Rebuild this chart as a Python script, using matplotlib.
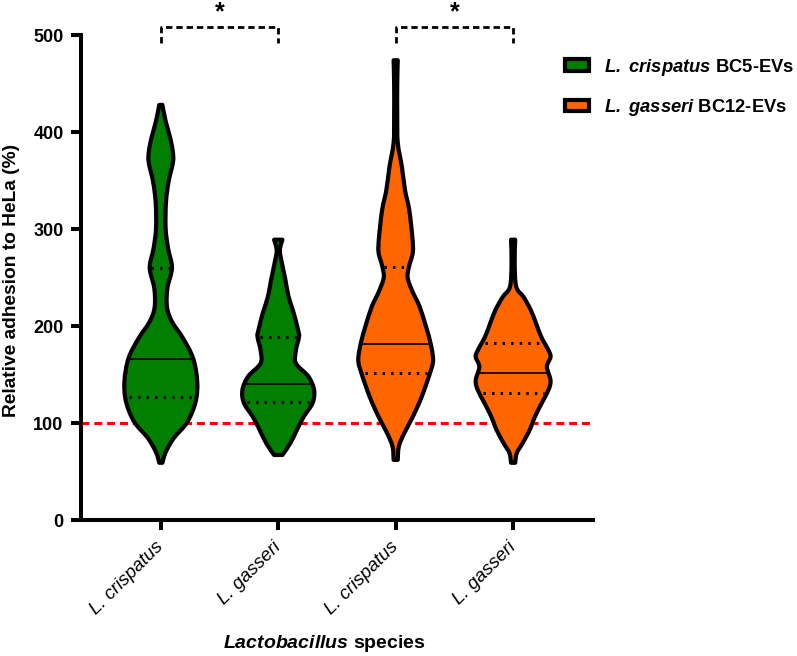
import numpy as np
import matplotlib
matplotlib.use("Agg")
import matplotlib.pyplot as plt
from matplotlib.patches import Patch, PathPatch
from matplotlib.path import Path

# Fuentes tipo Arial
plt.rcParams.update({
    "font.family": "Liberation Sans",
    "mathtext.fontset": "custom",
    "mathtext.rm": "Liberation Sans",
    "mathtext.it": "Liberation Sans:italic",
    "mathtext.bf": "Liberation Sans:bold",
    "mathtext.bfit": "Liberation Sans:italic:bold",
})

# Datos
categories = ["L. crispatus", "L. gasseri", "L. crispatus", "L. gasseri"]
groups = ["BC5", "BC5", "BC12", "BC12"]

# perfiles de los violines: nivel (%) y semiancho relativo
v1_levels = [428, 411, 394, 380, 369, 349, 328, 301, 280, 260, 239, 219, 204, 188, 167, 143, 122, 101, 84.5, 70, 59]
v1_dens = [1.5, 4.7, 9, 11.5, 11.7, 7.5, 5, 4.6, 7, 10.7, 6.3, 6, 11, 21, 31, 35, 33.5, 25.5, 12.5, 4.7, 1.5]

v2_levels = [289, 278, 265, 247, 230, 213, 196, 189, 175, 161.5, 148, 134, 120.5, 106.5, 93, 79, 67]
v2_dens = [4, 1.5, 3.5, 7, 10, 15, 19, 20, 17, 17, 29, 34.5, 33, 24.5, 18, 11.5, 4]

v3_levels = [474, 450, 416, 389, 364, 340, 320, 292, 276, 262, 250, 236, 220, 200, 182.5, 165, 151.5, 127, 106.5, 89, 75.6, 62]
v3_dens = [2, 1.5, 1.5, 2, 6, 9, 13, 16, 16.5, 13, 11.5, 16, 23, 29, 33.5, 36, 33, 25, 16.5, 8, 3, 2]

v4_levels = [289, 265, 240.5, 230, 216.5, 203, 189, 175, 168, 158, 144, 134, 120.5, 106.5, 93, 79, 69, 59]
v4_dens = [2, 1.5, 3, 10, 17, 22, 27, 34, 36, 32.5, 36, 34, 27.5, 21, 16, 9, 3.5, 2]

medians = [166, 140, 181, 152]
q1 = [127, 122, 152, 131]
q3 = [260, 189, 261, 182]

reference = 100
significance = [(1, 2, "*"), (3, 4, "*")]

colors = {"BC5": "#007F00", "BC12": "#FF6600"}


def smooth(pts):
    # Catmull-Rom pasado a curvas Bezier
    verts = []
    for i in range(len(pts) - 1):
        p0 = pts[i - 1] if i > 0 else pts[i]
        p1, p2 = pts[i], pts[i + 1]
        p3 = pts[i + 2] if i + 2 < len(pts) else pts[i + 1]
        verts += [p1 + (p2 - p0) / 6, p2 - (p3 - p1) / 6, p2]
    return verts


fig = plt.figure(figsize=(7.97, 6.56), dpi=100)
ax = fig.add_axes([0.1016, 0.2073, 0.6424, 0.7393])

width_scale = 1 / 113
profiles = [(v1_levels, v1_dens), (v2_levels, v2_dens), (v3_levels, v3_dens), (v4_levels, v4_dens)]

for i, (lev, dens) in enumerate(profiles):
    pos = i + 1
    lev = np.array(lev, dtype=float)
    hw = np.array(dens, dtype=float) * width_scale
    left = np.column_stack([pos - hw, lev])
    right = np.column_stack([pos + hw, lev])[::-1]
    verts = [left[0]] + smooth(left) + [right[0]] + smooth(right) + [left[0]]
    codes = ([Path.MOVETO] + [Path.CURVE4] * (3 * (len(left) - 1)) + [Path.LINETO]
             + [Path.CURVE4] * (3 * (len(right) - 1)) + [Path.CLOSEPOLY])
    ax.add_patch(PathPatch(Path(verts, codes), facecolor=colors[groups[i]],
                           edgecolor="black", linewidth=3, joinstyle="round", zorder=3))

    # mediana y cuartiles
    order = np.argsort(lev)

    def half(y):
        return np.interp(y, lev[order], hw[order])
    m = medians[i]
    ax.plot([pos - half(m), pos + half(m)], [m, m], color="black", lw=1.2, zorder=4)
    for q in (q1[i], q3[i]):
        h = half(q) * 0.9
        ax.plot([pos - h, pos + h], [q, q], color="black", lw=2.2,
                dashes=(0.8, 2.0), zorder=4)

# linea de referencia al 100 %
ax.axhline(reference, color="#FF0000", lw=2.2, dashes=(2.6, 1.6), zorder=2)

# corchetes de significancia
for a, b, mark in significance:
    ax.plot([a, a, b, b], [492, 508, 508, 492], color="black", lw=2.0,
            dashes=(2.3, 1.4), clip_on=False, zorder=5)
    ax.text((a + b) / 2, 511, mark, ha="center", va="bottom", fontsize=18,
            fontweight="bold", clip_on=False)

ax.set_xlim(0.32, 4.68)
ax.set_ylim(0, 500)
ax.set_yticks([0, 100, 200, 300, 400, 500])
ax.set_xticks([1, 2, 3, 4])
ax.set_xticklabels(categories, rotation=45, ha="right", va="center",
                   rotation_mode="anchor", fontstyle="italic", fontsize=13.5)
for lab in ax.get_yticklabels():
    lab.set_fontweight("bold")
    lab.set_fontsize(13)

for s in ["top", "right"]:
    ax.spines[s].set_visible(False)
for s in ["left", "bottom"]:
    ax.spines[s].set_linewidth(2.9)
ax.tick_params(axis="both", length=7.5, width=2.9, pad=5)
ax.tick_params(axis="x", pad=10)

ax.set_ylabel("Relative adhesion to HeLa (%)", fontsize=13.8, fontweight="bold")
ax.yaxis.set_label_coords(-0.119, 0.493)
ax.set_xlabel(r"$\mathbfit{Lactobacillus}$ species", fontsize=14, fontweight="bold")
ax.xaxis.set_label_coords(0.4756, -0.232)

handles = [
    Patch(facecolor=colors["BC5"], edgecolor="black", linewidth=3,
          label=r"$\mathbfit{L.\ crispatus}$ BC5-EVs"),
    Patch(facecolor=colors["BC12"], edgecolor="black", linewidth=3,
          label=r"$\mathbfit{L.\ gasseri}$ BC12-EVs"),
]
leg = fig.legend(handles=handles, loc="center left", bbox_to_anchor=(0.709, 0.867),
                 frameon=False, borderpad=0, borderaxespad=0, handlelength=1.28,
                 handleheight=0.6, handletextpad=0.85, labelspacing=1.05,
                 prop={"weight": "bold", "size": 13.2})

fig.savefig("out.png", dpi=100)
